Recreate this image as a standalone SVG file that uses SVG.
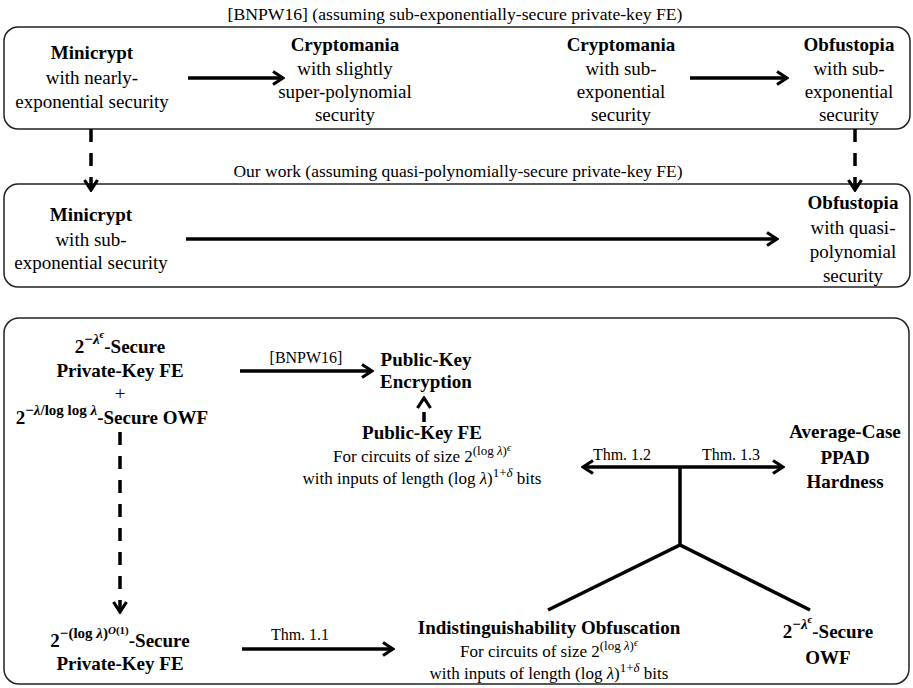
<svg xmlns="http://www.w3.org/2000/svg" width="913" height="688" viewBox="0 0 913 688" font-family="Liberation Serif, DejaVu Serif, serif">
<defs>
<style>
.t{font-family:"Liberation Serif","DejaVu Serif","Noto Serif",serif;fill:#000;text-anchor:middle;font-size:19px}
.b{font-weight:bold}
.s{font-size:16px}
.m{font-size:17px}
.i{font-style:italic}
.panel{fill:#fff;stroke:#222;stroke-width:1.5}
.c{stroke:#000;stroke-width:3.5;fill:none}
.d{stroke-dasharray:13 11}
</style>
<marker id="ah" viewBox="0 0 14 16" refX="12" refY="8" markerWidth="14" markerHeight="16" markerUnits="userSpaceOnUse" orient="auto-start-reverse">
<path d="M2,1.5 L12,8 L2,14.5" fill="none" stroke="#000" stroke-width="3.2"/>
</marker>
</defs>
<rect width="913" height="688" fill="#fff"/>

<g id="panels">
<rect class="panel" x="4" y="27" width="906" height="102" rx="14"/>
<rect class="panel" x="4" y="184" width="906" height="103" rx="14"/>
<rect class="panel" x="4" y="318" width="905" height="366" rx="15"/>
<text class="t s" x="455" y="20" textLength="455" lengthAdjust="spacingAndGlyphs">[BNPW16] (assuming sub-exponentially-secure private-key FE)</text>
<text class="t m" x="458" y="177" textLength="449" lengthAdjust="spacingAndGlyphs">Our work (assuming quasi-polynomially-secure private-key FE)</text>
</g>

<g id="connectors">
<line class="c" x1="188" y1="78" x2="283" y2="78" marker-end="url(#ah)"/>
<line class="c" x1="690" y1="78" x2="787" y2="78" marker-end="url(#ah)"/>
<line class="c d" x1="91" y1="129" x2="91" y2="190" marker-end="url(#ah)"/>
<line class="c d" x1="855" y1="129" x2="855" y2="190" marker-end="url(#ah)"/>
<line class="c" x1="186" y1="239" x2="777" y2="239" marker-end="url(#ah)"/>
<line class="c" x1="240" y1="371" x2="372" y2="371" marker-end="url(#ah)"/>
<line class="c" x1="424" y1="422" x2="424" y2="398" stroke-dasharray="10 30" marker-end="url(#ah)"/>
<line class="c" x1="583" y1="467" x2="783" y2="467" marker-start="url(#ah)" marker-end="url(#ah)"/>
<polyline class="c" points="680,467 680,545"/>
<polyline class="c" points="548,610 680,545 810,610"/>
<line class="c d" x1="120" y1="432" x2="120" y2="612" marker-end="url(#ah)"/>
<line class="c" x1="242" y1="649" x2="393" y2="649" marker-end="url(#ah)"/>
<text class="t s" x="306" y="363">[BNPW16]</text>
<text class="t s" x="622" y="460">Thm. 1.2</text>
<text class="t s" x="731" y="460">Thm. 1.3</text>
<text class="t s" x="300" y="640">Thm. 1.1</text>
</g>

<g id="minicrypt1">
<text class="t b" x="92" y="59">Minicrypt</text>
<text class="t" x="92" y="84">with nearly-</text>
<text class="t" x="92" y="108">exponential security</text>
</g>
<g id="cryptomania1">
<text class="t b" x="345" y="51">Cryptomania</text>
<text class="t" x="345" y="75">with slightly</text>
<text class="t" x="345" y="98">super-polynomial</text>
<text class="t" x="345" y="121">security</text>
</g>
<g id="cryptomania2">
<text class="t b" x="621" y="51">Cryptomania</text>
<text class="t" x="621" y="75">with sub-</text>
<text class="t" x="621" y="98">exponential</text>
<text class="t" x="621" y="121">security</text>
</g>
<g id="obfustopia1">
<text class="t b" x="849" y="51">Obfustopia</text>
<text class="t" x="849" y="75">with sub-</text>
<text class="t" x="849" y="98">exponential</text>
<text class="t" x="849" y="121">security</text>
</g>

<g id="minicrypt2">
<text class="t b" x="91" y="221">Minicrypt</text>
<text class="t" x="91" y="246">with sub-</text>
<text class="t" x="91" y="269">exponential security</text>
</g>
<g id="obfustopia2">
<text class="t b" x="853" y="209">Obfustopia</text>
<text class="t" x="853" y="234">with quasi-</text>
<text class="t" x="853" y="258">polynomial</text>
<text class="t" x="853" y="282">security</text>
</g>

<g id="fe-owf">
<text class="t b" x="120" y="353">2<tspan font-size="15" dy="-9">−<tspan class="i">λ</tspan><tspan font-size="11" dy="-6" class="i">ϵ</tspan></tspan><tspan dy="15">-Secure</tspan></text>
<text class="t b" x="120" y="377">Private-Key FE</text>
<text class="t" x="120" y="400">+</text>
<text class="t b" x="112" y="424">2<tspan font-size="15" dy="-9">−<tspan class="i">λ</tspan>/log log <tspan class="i">λ</tspan></tspan><tspan dy="9">-Secure OWF</tspan></text>
</g>

<g id="pke">
<text class="t b" x="426" y="366">Public-Key</text>
<text class="t b" x="426" y="388">Encryption</text>
</g>

<g id="pkfe">
<text class="t b" x="422" y="439">Public-Key FE</text>
<text class="t m" x="422" y="462">For circuits of size 2<tspan font-size="13" dy="-7">(log <tspan class="i">λ</tspan>)<tspan font-size="10" dy="-4" class="i">ϵ</tspan></tspan></text>
<text class="t m" x="422" y="484">with inputs of length (log <tspan class="i">λ</tspan>)<tspan font-size="13" dy="-7">1+<tspan class="i">δ</tspan></tspan><tspan dy="7"> bits</tspan></text>
</g>

<g id="ppad">
<text class="t b" x="845" y="438">Average-Case</text>
<text class="t b" x="845" y="464">PPAD</text>
<text class="t b" x="845" y="488">Hardness</text>
</g>

<g id="qp-fe">
<text class="t b" x="120" y="647">2<tspan font-size="15" dy="-9">−(log <tspan class="i">λ</tspan>)<tspan font-size="11" dy="-4" class="i">O</tspan><tspan font-size="11">(1)</tspan></tspan><tspan dy="13">-Secure</tspan></text>
<text class="t b" x="120" y="670">Private-Key FE</text>
</g>

<g id="io">
<text class="t b" x="549" y="634">Indistinguishability Obfuscation</text>
<text class="t m" x="549" y="657">For circuits of size 2<tspan font-size="13" dy="-7">(log <tspan class="i">λ</tspan>)<tspan font-size="10" dy="-4" class="i">ϵ</tspan></tspan></text>
<text class="t m" x="549" y="679">with inputs of length (log <tspan class="i">λ</tspan>)<tspan font-size="13" dy="-7">1+<tspan class="i">δ</tspan></tspan><tspan dy="7"> bits</tspan></text>
</g>

<g id="owf">
<text class="t b" x="828" y="638">2<tspan font-size="15" dy="-9">−<tspan class="i">λ</tspan><tspan font-size="11" dy="-6" class="i">ϵ</tspan></tspan><tspan dy="15">-Secure</tspan></text>
<text class="t b" x="828" y="664">OWF</text>
</g>
</svg>
